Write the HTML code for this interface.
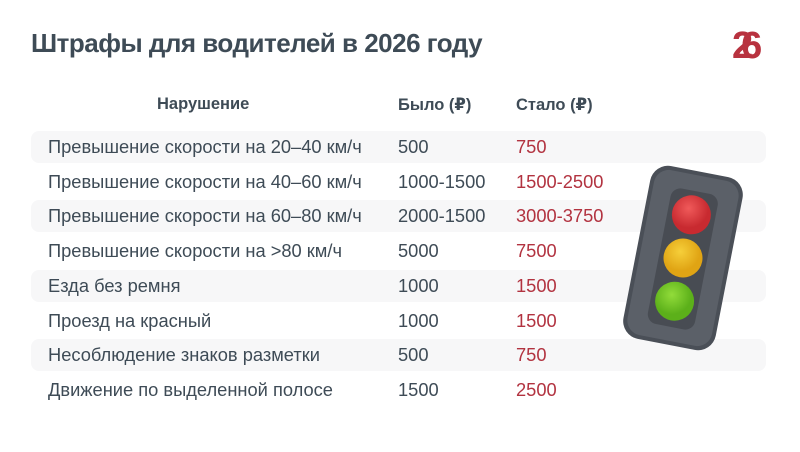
<!DOCTYPE html>
<html><head><meta charset="utf-8"><style>
body{margin:0;width:800px;height:452px;background:#fff;font-family:"Liberation Sans","DejaVu Sans",sans-serif;color:#3e4b56;position:relative;overflow:hidden}
.t{position:absolute;left:31px;top:28px;font-size:26px;font-weight:bold;letter-spacing:-0.5px;color:#3e4b56}
.logo{position:absolute;left:732px;top:25px;font-size:38px;font-weight:bold;color:#b8323f;letter-spacing:-12px}
.h{position:absolute;top:95px;font-size:16.5px;font-weight:bold}
.row{position:absolute;left:31px;width:735px;height:32px}
.row.s{background:#f7f7f8;border-radius:8px}
.row span{position:absolute;top:5px;font-size:18.3px}
.a{left:17px}.b{left:367px}.c{left:485px;color:#b23340}
</style></head><body>
<div class="t">Штрафы для водителей в 2026 году</div>
<div class="logo">26</div>
<div class="h" style="left:157px">Нарушение</div>
<div class="h" style="left:398px">Было (₽)</div>
<div class="h" style="left:516px">Стало (₽)</div>
<div class="row s" style="top:131px"><span class="a">Превышение скорости на 20–40 км/ч</span><span class="b">500</span><span class="c">750</span></div>
<div class="row" style="top:166px"><span class="a">Превышение скорости на 40–60 км/ч</span><span class="b">1000-1500</span><span class="c">1500-2500</span></div>
<div class="row s" style="top:200px"><span class="a">Превышение скорости на 60–80 км/ч</span><span class="b">2000-1500</span><span class="c">3000-3750</span></div>
<div class="row" style="top:235px"><span class="a">Превышение скорости на &gt;80 км/ч</span><span class="b">5000</span><span class="c">7500</span></div>
<div class="row s" style="top:270px"><span class="a">Езда без ремня</span><span class="b">1000</span><span class="c">1500</span></div>
<div class="row" style="top:305px"><span class="a">Проезд на красный</span><span class="b">1000</span><span class="c">1500</span></div>
<div class="row s" style="top:339px"><span class="a">Несоблюдение знаков разметки</span><span class="b">500</span><span class="c">750</span></div>
<div class="row" style="top:374px"><span class="a">Движение по выделенной полосе</span><span class="b">1500</span><span class="c">2500</span></div>
<svg style="position:absolute;left:0;top:0" width="800" height="452">
<defs>
<radialGradient id="r" cx=".4" cy=".35"><stop offset="0" stop-color="#f05a5a"/><stop offset="1" stop-color="#c82a30"/></radialGradient>
<radialGradient id="y" cx=".4" cy=".35"><stop offset="0" stop-color="#f6cf3a"/><stop offset="1" stop-color="#e0a414"/></radialGradient>
<radialGradient id="g" cx=".4" cy=".35"><stop offset="0" stop-color="#92dc3a"/><stop offset="1" stop-color="#5cb01a"/></radialGradient>
</defs>
<g transform="rotate(11 683 258)">
<rect x="636" y="170" width="94" height="176" rx="18" fill="#4a4f57"/>
<rect x="640" y="174" width="86" height="168" rx="15" fill="#5b6068"/>
<rect x="659" y="190" width="48" height="138" rx="10" fill="#484c53"/>
<circle cx="683" cy="214" r="19.5" fill="url(#r)"/>
<circle cx="683" cy="258" r="19.5" fill="url(#y)"/>
<circle cx="683" cy="302" r="19.5" fill="url(#g)"/>
</g>
</svg>
</body></html>
